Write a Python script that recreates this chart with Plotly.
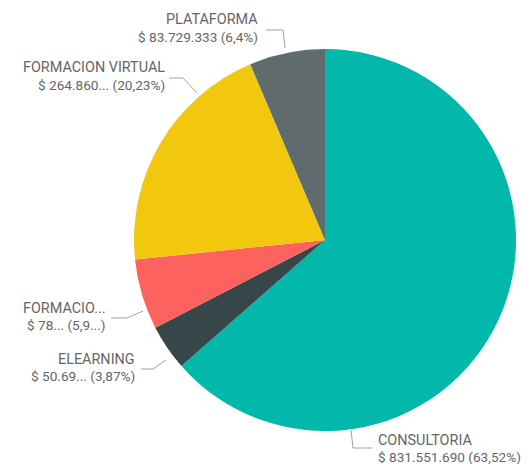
import plotly.graph_objects as go

# Browser body margin is 8px, so the figure is 8px smaller than the window
OX, OY = 8, 8
W, H = 532 - OX, 464 - OY

# Data
categories = ["CONSULTORIA", "ELEARNING", "FORMACION", "FORMACION VIRTUAL", "PLATAFORMA"]
values = [831551690, 50690000, 78000000, 264860000, 83729333]
label_names = ["CONSULTORIA", "ELEARNING", "FORMACIO...", "FORMACION VIRTUAL", "PLATAFORMA"]
label_amounts = ["$ 831.551.690 (63,52%)", "$ 50.69... (3,87%)", "$ 78... (5,9...)",
                 "$ 264.860... (20,23%)", "$ 83.729.333 (6,4%)"]
colors = ["#01B8AA", "#374649", "#FD625E", "#F2C80F", "#5F6B6D"]

# Layout geometry (window pixels)
cx, cy, r = 325, 240, 191
# (x edge, name y, amount y, anchor)
label_pos = [
    (377, 440, 457, "left"),
    (136, 359, 376, "right"),
    (107, 308, 325, "right"),
    (166, 68, 85, "right"),
    (259, 20, 37, "right"),
]
leaders = [
    [(351, 430), (353, 448), (372, 448)],
    [(141, 369), (153, 369), (166, 360)],
    [(111, 318), (127, 318), (143, 311)],
    [(169, 78), (183, 78), (197, 93)],
    [(266, 30), (283, 30), (285, 48)],
]


def px(x):
    return (x - OX) / W


def py(y):
    return 1 - (y - OY) / H


fig = go.Figure(go.Pie(
    labels=categories,
    values=values,
    sort=False,
    direction="clockwise",
    rotation=0,
    textinfo="none",
    hoverinfo="label+value+percent",
    marker=dict(colors=colors, line=dict(width=0)),
    domain=dict(x=[px(cx - r), px(cx + r)], y=[py(cy + r), py(cy - r)]),
    showlegend=False,
))

font_family = "Roboto, 'DejaVu Sans', sans-serif"
for name, amt, (x, y1, y2, anchor) in zip(label_names, label_amounts, label_pos):
    fig.add_annotation(
        x=px(x), y=py(y1), xref="paper", yref="paper",
        text=name, showarrow=False, borderpad=0,
        xanchor=anchor, yanchor="middle", align=anchor,
        font=dict(family=font_family, size=14.4, color="#666666"),
    )
    fig.add_annotation(
        x=px(x), y=py(y2), xref="paper", yref="paper",
        text=amt, showarrow=False, borderpad=0,
        xanchor=anchor, yanchor="middle", align=anchor,
        font=dict(family=font_family, size=13.6, color="#666666"),
    )

for pts in leaders:
    path = "M " + " L ".join(f"{px(a)},{py(b)}" for a, b in pts)
    fig.add_shape(type="path", path=path, xref="paper", yref="paper",
                  line=dict(color="#a0a0a0", width=1))

fig.update_layout(
    width=W, height=H,
    margin=dict(l=0, r=0, t=0, b=0),
    paper_bgcolor="white",
    plot_bgcolor="white",
)

fig.write_html("out.html")
